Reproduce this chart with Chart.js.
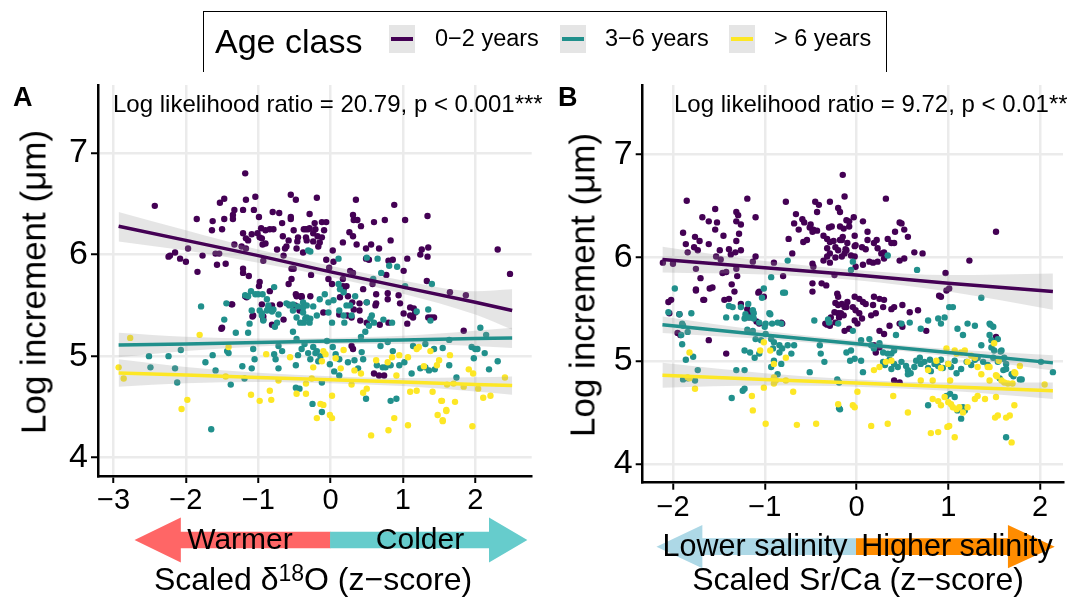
<!DOCTYPE html>
<html>
<head>
<meta charset="utf-8">
<script src="https://cdn.jsdelivr.net/npm/chart.js@4.4.1/dist/chart.umd.min.js"></script>
<style>
  body { margin: 0; width: 1067px; height: 601px; position: relative; overflow: hidden; background: #fff;
         font-family: "Liberation Sans", Arial, Helvetica, sans-serif; color: #000; }
  canvas { position: absolute; top: 0; }
  .t { position: absolute; white-space: nowrap; line-height: 1; }
  .c { transform: translateX(-50%); }
  .ytitle { font-size: 35px; transform: translate(-50%, -50%) rotate(-90deg); }
  .box { position: absolute; border: 1.5px solid #000; border-bottom: none; }
  .key { position: absolute; top: 25px; width: 26px; height: 28px; background: #E5E5E5; }
  .key i { position: absolute; left: 2px; right: 2px; top: 12px; height: 4px; }
</style>
</head>
<body>
<canvas id="chartA" width="540" height="601" style="left:0"></canvas>
<canvas id="chartB" width="527" height="601" style="left:540px"></canvas>

<!-- legend -->
<div class="box" style="left:203px;top:11px;width:682px;height:60px"></div>
<div class="t" style="left:215px;top:24px;font-size:34px">Age class</div>
<div class="key" style="left:389px"><i style="background:#440154"></i></div>
<div class="t" style="left:435px;top:27px;font-size:23.5px">0−2 years</div>
<div class="key" style="left:560px"><i style="background:#21908C"></i></div>
<div class="t" style="left:605px;top:27px;font-size:23.5px">3−6 years</div>
<div class="key" style="left:729px"><i style="background:#FDE725"></i></div>
<div class="t" style="left:774px;top:27px;font-size:23.5px">&gt; 6 years</div>

<!-- panel A texts -->
<div class="t" style="left:13px;top:84px;font-size:27px;font-weight:bold">A</div>
<div class="t" style="left:113px;top:92px;font-size:24px">Log likelihood ratio = 20.79, p &lt; 0.001***</div>
<div class="t ytitle" style="left:33px;top:282px">Log increment (μm)</div>
<div class="t c" style="left:240px;top:524px;font-size:30px">Warmer</div>
<div class="t c" style="left:420px;top:524px;font-size:30px">Colder</div>
<div class="t c" style="left:313px;top:563px;font-size:32px">Scaled δ<span style="position:relative;top:-0.38em;font-size:0.72em">18</span>O (z−score)</div>

<!-- panel B texts -->
<div class="t" style="left:558px;top:84px;font-size:27px;font-weight:bold">B</div>
<div class="t" style="left:674px;top:92px;font-size:24px">Log likelihood ratio = 9.72, p &lt; 0.01**</div>
<div class="t ytitle" style="left:582px;top:285px">Log increment (μm)</div>
<div class="t c" style="left:755px;top:530px;font-size:30.5px">Lower salinity</div>
<div class="t c" style="left:957px;top:530px;font-size:30.5px">Higher salinity</div>
<div class="t c" style="left:858px;top:563px;font-size:32px">Scaled Sr/Ca (z−score)</div>

<script>
// ---------- data: panel A (scaled d18O) ----------
const xTicksA = [-3, -2, -1, 0, 1, 2];
const yTicks = [4, 5, 6, 7];

const aPurple = [
  [-1.18,6.80],[-2.43,6.48],[-1.53,6.51],[-1.47,6.55],[-1.17,6.54],[-1.04,6.57],[-0.55,6.59],[-0.48,6.54],
  [-1.33,6.44],[-1.35,6.39],[-1.35,6.35],[-1.21,6.44],[-1.06,6.44],[-0.80,6.42],[-0.71,6.41],[-1.85,6.35],
  [-1.63,6.33],[-1.47,6.35],[-0.99,6.37],[-0.67,6.31],[-0.55,6.37],[-0.55,6.35],[-1.64,6.24],[-1.50,6.25],
  [-0.96,6.26],[-0.90,6.24],[-0.84,6.25],[-0.79,6.25],[-0.51,6.24],[-0.37,6.25],[-0.31,6.25],[-1.21,6.21],
  [-1.01,6.21],[-1.09,6.20],[-1.17,6.16],[-1.14,6.14],[-0.98,6.17],[-0.95,6.16],[-0.66,6.18],[-0.58,6.14],
  [-0.45,6.17],[-0.46,6.13],[-0.34,6.17],[-0.94,6.10],[-0.90,6.11],[-1.33,6.10],[-1.23,6.08],[-1.17,6.06],
  [-0.74,6.05],[-0.63,6.06],[-0.61,6.08],[-0.47,6.06],[-0.38,6.02],[-1.97,6.06],[-2.15,6.02],[-2.22,5.99],
  [-2.24,5.98],[-2.08,5.96],[-2.00,5.93],[-1.77,5.99],[-1.59,6.01],[-1.54,6.01],[-1.57,5.90],[-1.45,5.91],
  [-1.84,5.83],[-1.21,5.86],[-1.21,5.82],[-1.13,5.79],[-0.93,5.94],[-0.65,5.99],[-0.54,5.86],[-0.51,5.86],
  [-0.54,5.76],[-0.98,5.73],[-0.99,5.69],[-0.84,5.64],[-0.58,5.71],[-1.18,5.59],[-1.16,5.58],[-1.36,5.51],
  [-0.95,5.51],[-0.81,5.50],[-0.70,5.51],[-0.47,5.59],[-0.40,5.58],[-0.49,5.50],[-0.43,5.45],[-1.07,5.40],
  [-0.93,5.36],[-0.81,5.31],[-0.65,5.36],[-1.50,5.28],
  [-0.19,6.56],[0.35,6.54],[0.88,6.49],[-0.29,6.40],[0.31,6.39],[0.32,6.34],[0.37,6.34],[0.42,6.28],
  [0.60,6.32],[0.75,6.34],[1.03,6.34],[1.34,6.38],[-0.34,6.25],[-0.29,6.26],[-0.22,6.31],[-0.21,6.25],
  [-0.12,6.32],[-0.06,6.32],[-0.09,6.24],[-0.24,6.21],[-0.18,6.18],[-0.12,6.17],[-0.15,6.12],[-0.33,6.14],
  [-0.24,6.13],[0.26,6.22],[0.31,6.18],[0.17,6.12],[0.83,6.14],[0.36,6.10],[0.56,6.10],[0.49,6.06],
  [0.67,6.06],[-0.17,6.08],[0.03,6.04],[0.04,5.93],[0.49,5.96],[0.53,5.95],[0.80,5.94],[0.86,5.95],
  [1.06,5.96],[1.26,6.05],[1.24,6.00],[1.35,6.07],[1.34,5.98],[2.31,6.05],[2.48,5.81],[-0.06,5.95],
  [-0.02,5.87],[0.17,5.76],[0.27,5.84],[0.31,5.82],[0.77,5.80],[1.01,5.84],[1.33,5.74],[-0.27,5.80],
  [-0.03,5.76],[0.02,5.71],[0.17,5.69],[0.22,5.69],[0.18,5.66],[0.45,5.66],[0.63,5.61],[0.58,5.71],
  [0.79,5.62],[0.79,5.56],[0.94,5.60],[-0.40,5.59],[-0.28,5.59],[0.13,5.58],[0.24,5.59],[0.30,5.53],
  [0.40,5.52],[0.50,5.53],[0.62,5.50],[0.63,5.52],[0.32,5.46],[0.40,5.45],[0.96,5.52],[1.10,5.48],
  [1.15,5.47],[1.17,5.43],[1.14,5.38],[1.10,5.40],[1.35,5.38],[1.39,5.38],[1.43,5.38],[1.01,5.42],
  [-0.10,5.43],[0.12,5.41],[0.23,5.40],[0.29,5.38],[0.41,5.35],[0.50,5.33],[0.68,5.31],[0.80,5.33],
  [1.06,5.32],[1.65,5.63],[1.87,5.60],[1.84,5.25],[-1.37,5.51],[-1.51,5.27],[-0.93,5.39],[-1.08,5.39],
  [-0.48,5.61],[-0.41,5.59],[0.31,5.07],[0.29,5.10],[0.60,4.83],[0.67,4.81],[0.74,4.81]
];

const aTeal = [
  [-0.31,6.04],[-1.10,5.64],[-1.00,5.61],[-0.94,5.61],[-0.78,5.68],[-0.88,5.56],[-1.44,5.52],[-1.79,5.49],
  [-1.09,5.45],[-0.95,5.40],[-0.88,5.45],[-0.86,5.48],[-0.79,5.46],[-0.72,5.41],[-0.61,5.52],[-0.57,5.50],
  [-0.52,5.51],[-0.47,5.38],[-0.38,5.43],[-0.33,5.38],[-0.37,5.33],[-1.12,5.32],[-1.47,5.36],[-0.74,5.33],
  [-0.28,6.03],[0.11,5.96],[0.50,5.97],[0.65,5.96],[0.81,5.89],[0.92,5.88],[0.70,5.82],[1.40,5.71],
  [0.59,5.76],[1.03,5.69],[-0.38,5.53],[-0.33,5.50],[-0.24,5.49],[-0.15,5.56],[-0.08,5.61],[-0.03,5.53],
  [0.04,5.55],[0.11,5.71],[0.13,5.66],[0.18,5.63],[0.27,5.50],[0.34,5.59],[0.50,5.53],[0.57,5.40],
  [0.73,5.36],[0.85,5.33],[1.19,5.44],[1.35,5.46],[1.38,5.35],[2.07,5.28],[-0.42,5.33],[-0.28,5.37],
  [-0.19,5.40],[-0.03,5.43],[0.02,5.33],[0.18,5.40],
  [2.15,5.21],[1.64,5.16],[1.55,5.08],[1.95,5.09],[2.00,5.07],[2.03,5.07],[1.98,4.98],[2.13,5.03],
  [2.31,4.95],[2.19,4.87],[1.64,4.91],[1.74,4.79],
  [-2.51,5.00],[-2.49,4.89],[-2.24,5.00],[-2.15,4.88],[-2.12,4.74],[-2.07,5.06],[-1.73,4.94],[-1.63,5.01],
  [-1.59,4.86],[-1.65,4.28],[-1.43,5.05],[-1.41,5.03],[-1.38,4.72],[-1.31,5.23],[-1.22,4.90],[-1.19,4.78],
  [-1.18,5.60],[-1.14,5.59],[-1.14,5.23],[-1.07,5.07],[-1.09,4.88],[-1.05,4.97],[-1.04,5.61],[-0.98,5.45],
  [-0.95,5.42],[-0.93,5.35],[-0.86,5.50],[-0.81,5.44],[-0.77,5.29],[-0.72,5.10],[-0.78,5.02],[-0.76,4.97],
  [-0.72,4.88],[-0.67,5.05],[-0.58,5.51],[-0.52,5.45],[-0.45,5.49],[-0.38,5.48],[-0.52,5.24],[-0.47,5.17],
  [-0.35,5.37],[-0.29,5.33],[-0.45,5.01],[-0.40,5.07],[-0.48,4.91],[-0.48,4.69],[-0.43,4.68],[-0.36,5.12],
  [-0.31,5.03],[-0.28,4.97],[-0.24,5.09],[-0.19,5.05],[-0.14,5.00],[-0.17,4.95],[-0.21,5.03],[-0.12,4.45],
  [-0.25,4.53],[-0.12,4.74],[-0.05,5.15],[0.03,5.09],[0.07,5.02],[0.12,4.97],[-0.01,4.92],[0.05,4.85],
  [0.12,4.81],[0.19,5.33],[0.22,5.50],[0.12,5.45],[0.29,5.40],[0.24,4.94],[0.33,4.96],[0.38,4.88],
  [0.45,4.97],[0.43,5.04],[0.42,5.19],[0.48,5.24],[0.53,5.30],[0.55,5.37],[0.60,5.33],[0.49,4.58],
  [0.64,4.91],[0.72,4.89],[0.76,4.89],[0.83,4.91],[0.69,5.10],[0.79,5.14],[0.86,5.05],[0.83,4.56],
  [0.91,4.58],[0.95,4.91],[1.02,4.94],[1.12,4.83],[1.24,4.88],[1.31,4.89],[1.14,5.10],[1.31,5.12],
  [1.43,5.07],[1.36,4.86],[1.44,4.87]
];

const aYellow = [
  [-2.77,5.18],[-2.86,4.78],[-2.93,4.89],[-1.98,4.57],[-2.06,4.48],[-1.81,5.21],[-1.45,4.80],[-1.41,5.09],
  [-1.10,4.62],[-0.98,4.56],[-0.84,4.66],[-0.82,4.57],[-0.89,5.02],[-0.72,4.76],[-0.56,4.99],[-0.47,4.63],
  [-0.34,4.63],[-0.34,4.73],[-0.26,4.78],[-0.24,4.89],[-0.12,4.95],[-0.07,5.02],[-0.10,5.05],[-0.14,4.53],
  [-0.10,4.52],[-0.19,4.39],[-0.01,4.42],[0.02,4.39],[0.02,4.61],[0.07,4.98],[0.18,5.06],[0.14,4.88],
  [0.29,4.72],[0.33,4.86],[0.42,4.83],[0.45,4.64],[0.50,4.68],[0.56,4.22],[0.63,4.96],[0.79,4.94],
  [0.85,4.99],[0.80,4.27],[0.88,4.39],[0.95,5.01],[1.07,4.99],[0.91,4.81],[1.07,4.32],[1.10,4.65],
  [1.19,4.66],[1.19,5.07],[1.22,5.09],[1.38,5.05],[1.29,4.90],[1.47,4.91],[1.50,4.96],[1.41,4.65],
  [1.48,4.42],[1.55,4.37],[1.53,4.56],[1.60,4.47],[1.72,4.55],[1.65,5.01],[1.91,4.87],[1.97,4.83],
  [2.41,4.79],[1.84,4.70],[2.04,4.68],[1.61,4.72],[1.70,4.73],[2.11,4.59],[2.21,4.61],[1.54,4.56],
  [1.60,4.46],[1.55,4.36],[1.96,4.31]
];

// fitted lines and confidence bands, panel A
const aFitX = [-2.93, -2, -1, 0, 1, 2, 2.51];
const aPurpleFit = [6.28, 6.14, 5.99, 5.83, 5.68, 5.53, 5.45];
const aPurpleHi  = [6.42, 6.24, 6.05, 5.89, 5.745, 5.64, 5.66];
const aPurpleLo  = [6.13, 6.04, 5.92, 5.78, 5.615, 5.41, 5.26];
const aTealFit   = [5.11, 5.12, 5.135, 5.15, 5.16, 5.175, 5.18];
const aTealHi    = [5.23, 5.19, 5.175, 5.18, 5.20, 5.25, 5.28];
const aTealLo    = [4.99, 5.05, 5.095, 5.12, 5.12, 5.10, 5.08];
const aYellowFit = [4.835, 4.814, 4.791, 4.768, 4.745, 4.722, 4.71];
const aYellowHi  = [4.97, 4.894, 4.836, 4.803, 4.785, 4.792, 4.80];
const aYellowLo  = [4.70, 4.734, 4.746, 4.733, 4.705, 4.652, 4.62];
const aArrowStops = [-2.71, -2.07, 0, 2.19, 2.72];

// ---------- data: panel B (scaled Sr/Ca) ----------
const xTicksB = [-2, -1, 0, 1, 2];

const bPurple = [
  [-1.85,6.55],[-1.19,6.57],[-0.77,6.54],[-0.15,6.80],[-1.54,6.47],[-1.68,6.39],[-1.61,6.35],[-1.52,6.34],
  [-1.31,6.44],[-1.29,6.41],[-1.31,6.35],[-1.26,6.32],[-1.10,6.39],[-1.89,6.24],[-1.76,6.20],[-1.71,6.16],
  [-1.61,6.13],[-1.86,6.13],[-1.77,6.10],[-1.73,6.07],[-1.54,6.27],[-1.45,6.21],[-1.28,6.23],[-1.31,6.16],
  [-1.49,6.07],[-1.39,6.08],[-1.32,6.05],[-1.26,6.07],[-1.37,6.03],[-1.10,6.01],[-1.13,5.96],[-1.84,6.05],
  [-1.53,6.01],[-1.48,5.98],[-2.11,5.95],[-2.00,5.94],[-1.75,5.89],[-1.70,5.80],[-1.46,5.85],[-1.42,5.86],
  [-1.31,5.89],[-1.30,5.82],[-1.75,5.69],[-1.60,5.70],[-1.36,5.74],[-1.33,5.67],[-1.67,5.59],[-1.44,5.59],
  [-1.39,5.60],[-2.05,5.57],[-2.02,5.59],[-2.04,5.46],[-1.93,5.45],[-0.90,5.95],[-0.80,5.82],[-1.07,5.66],
  [-1.26,5.55],[-1.19,5.50],[-1.17,5.42],[-1.15,5.46],[-1.13,5.48],[-1.09,5.38],[-1.06,5.36],[-0.81,5.36],
  [-0.74,6.18],[-0.70,6.04],[-0.66,6.42],[-0.59,6.37],[-0.57,6.34],[-0.50,6.32],[-0.51,6.29],[-0.47,6.27],
  [-0.43,6.26],[-0.48,6.25],[-0.68,6.33],[-0.63,6.27],[-0.58,6.15],[-0.54,6.17],[-0.45,6.54],[-0.41,6.51],
  [-0.43,6.44],[-0.29,6.54],[-0.20,6.48],[-0.18,6.44],[-0.27,6.30],[-0.30,6.29],[-0.18,6.30],[-0.14,6.28],
  [-0.11,6.36],[-0.36,6.21],[-0.32,6.18],[-0.29,6.15],[-0.25,6.16],[-0.32,6.09],[-0.23,6.10],[-0.16,6.17],
  [-0.20,6.07],[-0.29,6.04],[-0.23,6.00],[-0.16,6.01],[-0.11,6.07],[-0.36,5.97],[-0.32,6.01],[-0.48,5.94],
  [-0.47,5.91],[-0.48,5.75],[-0.38,5.75],[-0.33,5.73],[-0.21,5.65],[-0.20,5.62],[-0.23,5.56],[-0.16,5.55],
  [-0.20,5.46],[-0.14,5.44],[-0.11,5.52],[-0.48,5.67],[-0.34,5.36],[-0.29,5.34],[-0.23,5.37],[-0.24,5.83],
  [-0.29,5.95],
  [-0.13,6.59],[-0.03,6.39],[-0.08,6.35],[-0.08,6.30],[0.07,6.35],[-0.02,6.21],[-0.15,6.20],[-0.18,6.17],
  [-0.10,6.14],[-0.12,6.08],[-0.02,6.11],[-0.01,6.12],[-0.13,6.04],[-0.06,6.02],[-0.02,6.01],[0.12,6.25],
  [0.12,6.17],[0.19,6.14],[0.22,6.17],[0.06,6.10],[0.10,6.08],[0.23,6.09],[0.27,6.04],[0.30,6.05],
  [0.34,6.18],[0.38,6.14],[0.30,5.99],[0.14,5.96],[0.18,5.95],[0.23,5.96],[0.07,5.93],[-0.01,5.91],
  [0.32,6.57],[0.47,6.34],[0.49,6.33],[0.72,6.04],[0.63,6.05],[0.52,5.99],[0.47,5.97],[0.42,6.25],
  [0.52,6.27],[0.56,6.20],[0.41,6.14],[1.23,5.97],[1.52,6.25],[0.97,5.85],
  [-1.95,5.27],[-1.92,5.25],[-1.75,5.68],[-1.66,5.59],[-1.57,5.71],[-1.61,5.20],[-1.42,5.07],[-1.06,5.67],
  [-1.01,5.62],[-0.82,5.37],[-0.30,5.37],[-0.32,5.35],[-0.28,5.42],[-0.24,5.47],[-0.20,5.54],[-0.19,5.42],
  [-0.17,5.46],[-0.13,5.52],[-0.10,5.57],[-0.04,5.52],[-0.01,5.49],[0.03,5.46],[0.06,5.41],[-0.02,5.39],
  [0.01,5.36],[-0.08,5.31],[-0.13,5.29],[-0.02,5.62],[0.03,5.60],[0.07,5.57],[0.10,5.55],[0.19,5.62],
  [0.25,5.60],[0.30,5.59],[0.29,5.52],[0.18,5.54],[0.21,5.46],[0.38,5.50],[0.41,5.52],[0.50,5.54],
  [0.58,5.47],[0.67,5.49],[0.16,5.44],[0.25,5.29],[0.30,5.26],[0.19,5.15],[0.36,5.34],[0.47,5.36],
  [0.50,5.33],[0.41,4.81],[0.47,4.79],[0.21,5.08],[0.25,5.13],[0.76,5.29],[0.90,5.63],[0.92,5.62],
  [0.98,5.68],[1.01,5.70],[1.52,5.23]
];

const bTeal = [
  [-0.75,5.97],[-0.93,5.81],[-1.01,5.70],[-1.03,5.61],[-0.80,5.66],[-0.78,5.66],[-1.98,5.70],[-2.05,5.47],
  [-1.93,5.45],[-1.80,5.46],[-1.39,5.53],[-1.26,5.52],[-1.18,5.55],[-1.13,5.49],[-1.12,5.46],[-1.21,5.45],
  [-1.17,5.42],[-1.12,5.41],[-1.22,5.41],[-1.31,5.42],[-1.06,5.37],[-0.99,5.36],[-0.92,5.36],[-0.86,5.37],
  [-0.94,5.45],[-1.00,5.33],[-0.46,5.39],[-0.30,5.37],[-0.20,5.36],[-1.89,5.34],
  [0.34,6.02],[-0.04,5.96],[-0.06,5.88],[0.66,5.88],
  [-1.90,5.36],[-1.84,5.28],[-1.91,5.25],[-1.90,5.16],[-1.86,5.01],[-1.84,4.83],[-1.76,4.81],[-1.78,5.04],
  [-1.73,4.91],[-1.36,4.64],[-1.31,4.91],[-1.22,4.91],[-1.24,4.71],[-1.22,4.73],[-1.42,5.42],[-1.35,5.52],
  [-1.19,5.30],[-1.13,5.29],[-1.10,5.21],[-1.04,5.20],[-0.99,5.26],[-0.93,5.21],[-0.90,5.18],[-0.84,5.15],
  [-0.81,5.12],[-0.75,5.15],[-0.68,5.15],[-0.71,5.07],[-0.84,5.08],[-0.91,5.12],[-0.90,5.00],[-0.82,4.97],
  [-0.93,4.94],[-0.86,4.87],[-1.06,5.07],[-1.11,5.03],[-1.16,5.08],[-1.22,5.10],[-0.95,5.46],[-0.82,5.36],
  [-0.51,4.89],[-0.31,5.40],[-0.39,5.07],[-0.40,5.15],[-0.35,4.99],[-0.19,4.79],[-0.21,4.82],[-0.18,4.53],
  [-0.11,5.08],[-0.06,5.10],[-0.02,5.02],[-0.07,5.00],[0.05,5.00],[0.07,4.89],[-0.04,5.29],[0.05,5.20],
  [0.14,5.21],[0.16,5.15],[0.19,5.12],[0.25,5.17],[0.29,5.08],[0.34,5.07],
  [0.29,4.99],[0.31,4.96],[0.36,5.01],[0.41,4.97],[0.38,4.92],[0.45,4.94],[0.49,4.99],[0.54,4.95],
  [0.56,4.91],[0.59,4.88],[0.63,4.94],[0.65,5.00],[0.70,4.97],[0.69,5.03],[0.74,4.99],[0.78,4.93],
  [0.81,4.90],[0.80,5.01],[0.85,4.97],[0.89,4.95],[0.92,5.01],[0.94,4.93],[1.00,4.97],[1.03,4.94],
  [1.07,5.00],[1.09,4.88],[1.14,4.92],[1.20,4.99],[1.25,4.96],[1.29,5.01],[1.32,5.03],[1.38,4.99],
  [1.43,4.96],[1.49,5.03],[1.54,4.99],[1.60,5.02],[1.63,4.92],[1.69,4.87],[1.80,4.82],[2.01,4.99],
  [2.14,4.89],
  [0.43,5.25],[0.49,5.36],[0.58,5.37],[0.70,5.31],[0.78,5.39],[0.89,5.41],[0.92,5.36],[0.96,5.42],
  [1.01,5.52],[1.05,5.52],[1.10,5.31],[1.16,5.25],[1.21,5.36],[1.29,5.34],[1.36,5.15],[1.45,5.36],
  [1.49,5.33],[1.47,5.13],[1.54,5.21],[1.58,5.10],[1.61,5.03],[0.78,4.57],[1.10,4.52],[1.16,4.55],
  [1.63,4.26],[1.36,5.61],
  [1.46,5.35],[1.45,5.25],[1.47,5.20],[1.57,5.09],[1.50,5.10],[1.63,4.97],[1.60,4.91],[1.71,4.85],
  [1.78,4.82],[1.56,4.83],
  [-0.19,4.54],[1.14,4.44],[1.18,4.52],[1.07,4.65],[0.56,4.87],[1.02,4.68],[0.98,4.66],[0.38,5.07],
  [0.41,5.10],[-1.89,4.82]
];

const bYellow = [
  [-1.82,5.08],[-1.84,4.84],[-1.82,4.83],[-1.76,4.73],[-1.14,4.66],[-1.13,4.52],[-0.99,4.39],[-1.01,4.74],
  [-1.05,5.10],[-1.01,5.18],[-0.94,5.10],[-0.90,4.97],[-0.90,4.84],[-0.88,4.81],[-0.90,4.78],[-0.77,5.03],
  [-0.77,4.81],[-0.69,4.70],[-0.65,4.38],[-0.44,4.39],[-0.20,4.58],[-0.04,4.57],[-0.02,4.55],[0.01,4.70],
  [0.16,4.37],[0.19,4.91],[0.25,4.94],[0.32,4.99],[0.38,5.00],[0.34,4.39],[0.40,4.66],[0.56,4.50],
  [0.70,4.81],[0.78,4.91],[0.83,4.81],[0.87,5.00],[0.92,4.93],[0.98,5.12],[1.00,4.97],[1.02,4.81],
  [1.07,5.10],[1.09,5.07],[1.14,5.08],[1.18,5.10],[1.21,4.99],[1.25,5.05],[1.29,5.03],[1.32,4.94],
  [1.36,4.87],[1.43,4.94],[1.45,4.81],[1.50,5.17],[1.52,4.86],[1.58,4.81],[1.65,4.78],[1.72,4.89],
  [1.78,4.95],
  [0.83,4.63],[0.89,4.61],[0.92,4.57],[0.96,4.65],[1.00,4.60],[1.03,4.58],[1.05,4.55],[1.09,4.53],
  [1.12,4.55],[1.16,4.50],[1.21,4.55],[1.29,4.63],[1.32,4.66],[1.40,4.63],[1.52,4.65],[1.63,4.45],
  [1.67,4.47],[1.72,4.57],
  [0.81,4.30],[0.89,4.31],[0.99,4.36],[1.01,4.37],[1.07,4.26],[1.69,4.21],
  [1.45,4.94],[1.51,4.45],[1.54,4.47],[1.73,4.88],[1.70,4.78],[1.61,4.79],[2.05,4.77],[1.55,5.00],
  [1.53,4.85]
];

const bFitX = [-2.115, -1, 0, 1, 2.14];
const bPurpleFit = [5.98, 5.90, 5.83, 5.75, 5.67];
const bPurpleHi  = [6.105, 5.965, 5.88, 5.83, 5.845];
const bPurpleLo  = [5.855, 5.835, 5.78, 5.67, 5.495];
const bTealFit   = [5.35, 5.25, 5.165, 5.08, 4.98];
const bTealHi    = [5.43, 5.29, 5.195, 5.115, 5.055];
const bTealLo    = [5.27, 5.21, 5.135, 5.045, 4.905];
const bYellowFit = [4.86, 4.82, 4.785, 4.75, 4.71];
const bYellowHi  = [4.98, 4.88, 4.82, 4.79, 4.79];
const bYellowLo  = [4.74, 4.76, 4.75, 4.71, 4.63];
const bArrowStops = [-2.18, -1.68, 0, 1.65, 2.16];

// ---------- drawing ----------
const FONT = '"Liberation Sans", Arial, Helvetica, sans-serif';
Chart.defaults.font.family = FONT;
Chart.defaults.color = '#000';

const PURPLE = '#440154', TEAL = '#21908C', YELLOW = '#FDE725';
const BAND = 'rgba(153,153,153,0.26)';
const GRID = '#EBEBEB';

const pts = a => a.map(p => ({ x: p[0], y: p[1] }));
const curve = (xs, ys) => xs.map((x, i) => ({ x: x, y: ys[i] }));
const minus = v => String(v).replace('-', '\u2212');

// double arrow under the x axis, split at zero
const arrowBar = {
  id: 'arrowBar',
  afterDraw(chart, args, o) {
    const ctx = chart.ctx, sx = chart.scales.x;
    const [lt, lb, mid, rb, rt] = o.stops.map(v => sx.getPixelForValue(v));
    const cy = o.y, s = o.shaft / 2, h = o.head / 2;
    ctx.save();
    ctx.fillStyle = o.colors[0];
    ctx.beginPath();
    ctx.moveTo(lt, cy); ctx.lineTo(lb, cy - h); ctx.lineTo(lb, cy - s);
    ctx.lineTo(mid, cy - s); ctx.lineTo(mid, cy + s); ctx.lineTo(lb, cy + s); ctx.lineTo(lb, cy + h);
    ctx.closePath(); ctx.fill();
    ctx.fillStyle = o.colors[1];
    ctx.beginPath();
    ctx.moveTo(rt, cy); ctx.lineTo(rb, cy - h); ctx.lineTo(rb, cy - s);
    ctx.lineTo(mid - 0.5, cy - s); ctx.lineTo(mid - 0.5, cy + s); ctx.lineTo(rb, cy + s); ctx.lineTo(rb, cy + h);
    ctx.closePath(); ctx.fill();
    ctx.restore();
  }
};

function makePanel(id, o) {
  const datasets = [];
  o.fits.forEach(f => {
    datasets.push({ type: 'line', data: curve(o.fitX, f.hi), borderColor: 'rgba(0,0,0,0)', borderWidth: 1,
      pointRadius: 0, fill: '+1', backgroundColor: BAND, cubicInterpolationMode: 'monotone', order: 1 });
    datasets.push({ type: 'line', data: curve(o.fitX, f.lo), borderColor: 'rgba(0,0,0,0)', borderWidth: 1,
      pointRadius: 0, fill: false, cubicInterpolationMode: 'monotone', order: 1 });
    datasets.push({ type: 'line', data: curve(o.fitX, f.fit), borderColor: f.color, borderWidth: 3.5,
      pointRadius: 0, fill: false, tension: 0, order: 0 });
  });
  o.groups.forEach((g, i) => {
    datasets.push({ type: 'scatter', data: pts(g.data), backgroundColor: g.color, borderColor: g.color,
      borderWidth: 0, pointRadius: 3.2, order: 4 - i });
  });

  new Chart(document.getElementById(id), {
    type: 'scatter',
    data: { datasets: datasets },
    plugins: [arrowBar],
    options: {
      responsive: false,
      animation: false,
      events: [],
      devicePixelRatio: 1,
      layout: { padding: { top: 85, right: o.padRight, left: 0, bottom: 0 } },
      plugins: {
        legend: { display: false },
        tooltip: { enabled: false },
        arrowBar: o.arrow
      },
      scales: {
        x: {
          type: 'linear', min: o.xMin, max: o.xMax,
          afterBuildTicks: s => { s.ticks = o.xTicks.map(v => ({ value: v })); },
          afterFit: s => { s.height = o.xAxisH; },
          grid: { color: GRID, lineWidth: 2.5, drawTicks: true, tickLength: 7, tickColor: '#000', tickWidth: 2 },
          border: { display: true, color: '#000', width: 2.5 },
          ticks: { font: { size: 29 }, padding: 1, maxRotation: 0, autoSkip: false, callback: v => minus(v) }
        },
        y: {
          type: 'linear', min: 3.82, max: 7.67,
          afterBuildTicks: s => { s.ticks = yTicks.map(v => ({ value: v })); },
          afterFit: s => { s.width = o.yAxisW; },
          grid: { color: GRID, lineWidth: 2.5, drawTicks: true, tickLength: 7, tickColor: '#000', tickWidth: 2 },
          border: { display: true, color: '#000', width: 2.5 },
          ticks: { font: { size: 34 }, padding: 3, autoSkip: false, callback: v => minus(v) }
        }
      }
    }
  });
}

makePanel('chartA', {
  xMin: -3.215, xMax: 2.78, xTicks: xTicksA, padRight: 8.3, xAxisH: 125, yAxisW: 98,
  fitX: aFitX,
  fits: [
    { color: PURPLE, fit: aPurpleFit, hi: aPurpleHi, lo: aPurpleLo },
    { color: TEAL, fit: aTealFit, hi: aTealHi, lo: aTealLo },
    { color: YELLOW, fit: aYellowFit, hi: aYellowHi, lo: aYellowLo }
  ],
  groups: [
    { color: PURPLE, data: aPurple },
    { color: TEAL, data: aTeal },
    { color: YELLOW, data: aYellow }
  ],
  arrow: { stops: aArrowStops, y: 540, shaft: 16.6, head: 45, colors: ['#FF6666', '#66CCCC'] }
});

makePanel('chartB', {
  xMin: -2.33, xMax: 2.25, xTicks: xTicksB, padRight: 1, xAxisH: 118.3, yAxisW: 102.7,
  fitX: bFitX,
  fits: [
    { color: PURPLE, fit: bPurpleFit, hi: bPurpleHi, lo: bPurpleLo },
    { color: TEAL, fit: bTealFit, hi: bTealHi, lo: bTealLo },
    { color: YELLOW, fit: bYellowFit, hi: bYellowHi, lo: bYellowLo }
  ],
  groups: [
    { color: PURPLE, data: bPurple },
    { color: TEAL, data: bTeal },
    { color: YELLOW, data: bYellow }
  ],
  arrow: { stops: bArrowStops, y: 546.7, shaft: 16.7, head: 43.3, colors: ['#ADD8E6', '#FF8C00'] }
});
</script>
</body>
</html>
